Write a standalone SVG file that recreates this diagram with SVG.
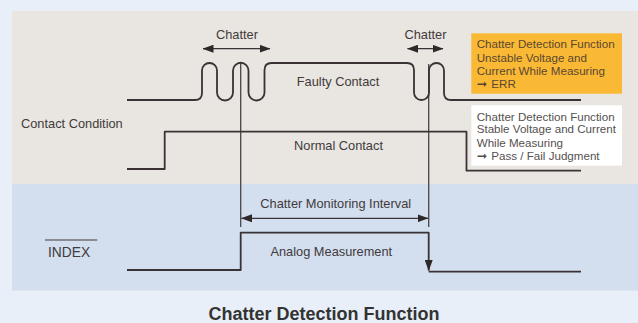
<svg xmlns="http://www.w3.org/2000/svg" width="638" height="323" viewBox="0 0 638 323">
<style>
.t{font-family:"Liberation Sans",Arial,sans-serif;font-size:12.8px;fill:#413b3b}
.bx{font-family:"Liberation Sans",Arial,sans-serif;font-size:11.6px}
.ar{font-family:"DejaVu Sans",sans-serif;font-size:12.5px}
.w{fill:none;stroke:#3a3234;stroke-width:1.8;stroke-linejoin:round}
.v{fill:none;stroke:#4a4446;stroke-width:1.3}
.a{fill:none;stroke:#3a3234;stroke-width:1.3}
</style>
<defs>
<marker id="ah" viewBox="0 0 11 8" refX="10.5" refY="4" markerWidth="11" markerHeight="8" orient="auto-start-reverse" markerUnits="userSpaceOnUse"><path d="M0,0 L11,4 L0,8 z" fill="#2f2829"/></marker>
</defs>
<rect x="0" y="0" width="638" height="323" fill="#e8eff9"/>
<rect x="12" y="11" width="626" height="173" fill="#e9e5e1"/>
<rect x="12" y="184" width="626" height="106.5" fill="#d3deef"/>
<g id="connectors">
<path class="v" d="M240.7,63 V227"/>
<path class="v" d="M428.7,64 V227"/>
<path class="a" d="M203,48.7 H270" marker-start="url(#ah)" marker-end="url(#ah)"/>
<path class="a" d="M407.5,48.7 H443" marker-start="url(#ah)" marker-end="url(#ah)"/>
<path class="a" stroke="#555" d="M241.5,218.3 H428" marker-start="url(#ah)" marker-end="url(#ah)"/>
</g>
<g id="faulty-contact">
<path class="w" d="M127,100 H195 Q202,100 202,93 V70.5 A7.5,7.5 0 0 1 217,70.5 V92.5 A8,8 0 0 0 233,92.5 V70.5 A7.75,7.75 0 0 1 248.5,70.5 V92.5 A8,8 0 0 0 264.5,92.5 V70 Q264.5,63 271.5,63 H407 Q414,63 414,70 V92.5 A7.5,7.5 0 0 0 429,92.5 V70.5 A7.5,7.5 0 0 1 444,70.5 V93 Q444,100 451,100 H581"/>
<text class="t" x="338" y="86" text-anchor="middle">Faulty Contact</text>
</g>
<g id="normal-contact">
<path class="w" d="M127,169 H164.7 V131.7 H466.5 V170.7 H581"/>
<text class="t" x="338.5" y="150" text-anchor="middle">Normal Contact</text>
</g>
<g id="index-signal">
<path class="w" d="M127,270 H240.7 V232.7 H428.7 V270.5" marker-end="url(#ah)"/>
<path class="w" d="M428.7,271.7 H581"/>
<text class="t" x="331.3" y="256" text-anchor="middle">Analog Measurement</text>
</g>
<g id="labels">
<text class="t" x="237" y="39" text-anchor="middle">Chatter</text>
<text class="t" x="425.5" y="39" text-anchor="middle">Chatter</text>
<text class="t" x="21" y="128.3">Contact Condition</text>
<text class="t" x="335.7" y="208.3" text-anchor="middle">Chatter Monitoring Interval</text>
<text class="t" x="48" y="257.3" style="font-size:13.8px">INDEX</text>
<line x1="45" y1="240" x2="97.3" y2="240" stroke="#413b3b" stroke-width="1"/>
</g>
<g id="err-box">
<rect x="471.3" y="33.3" width="150.7" height="60.4" fill="#f9b934"/>
<g class="bx" fill="#5a4632">
<text x="476.7" y="48.3">Chatter Detection Function</text>
<text x="476.7" y="61.7">Unstable Voltage and</text>
<text x="476.7" y="75">Current While Measuring</text>
<text x="476.7" y="88.3"><tspan class="ar">➞</tspan><tspan x="491.3">ERR</tspan></text>
</g>
</g>
<g id="pass-box">
<rect x="471.3" y="105.3" width="150.7" height="60.4" fill="#ffffff"/>
<g class="bx" fill="#555050">
<text x="476.7" y="120.7">Chatter Detection Function</text>
<text x="476.7" y="133.3">Stable Voltage and Current</text>
<text x="476.7" y="146.7">While Measuring</text>
<text x="476.7" y="160"><tspan class="ar">➞</tspan><tspan x="491.3">Pass / Fail Judgment</tspan></text>
</g>
</g>
<g id="title">
<text x="324" y="320" text-anchor="middle" style="font-family:'Liberation Sans',Arial,sans-serif;font-size:18px;font-weight:bold;fill:#333">Chatter Detection Function</text>
</g>
</svg>
